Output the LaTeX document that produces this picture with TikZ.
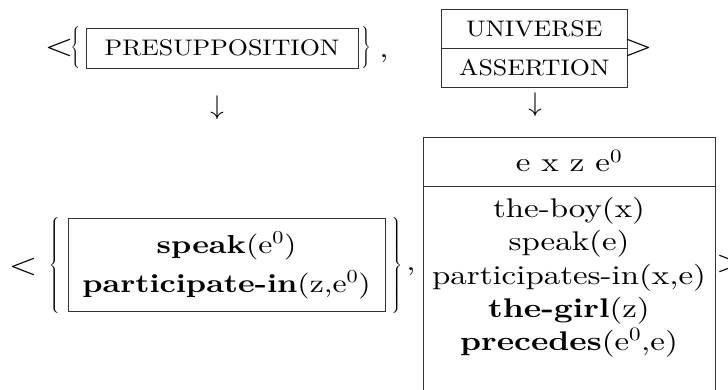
\documentclass[tikz,border=0pt]{standalone}
\usepackage{fix-cm}
\usepackage{fontspec}
\setmainfont{lmroman10-regular.otf}[BoldFont=lmroman10-bold.otf, FakeStretch=1.22]
\newfontfamily\capfont{lmroman10-regular.otf}[FakeStretch=1.15]
\usepackage{graphicx}
\newcommand\lbrc[2]{\scalebox{#2}[1]{$\left\{\vcenter{\hbox{\vrule height #1 width 0pt}}\right.$}}
\newcommand\rbrc[2]{\scalebox{#2}[1]{$\left.\vcenter{\hbox{\vrule height #1 width 0pt}}\right\}$}}
\newcommand\ezero{e\textsuperscript{0}}
\tikzset{
  boxed/.style={draw=black!80, line width=0.9pt, inner sep=0pt},
  lbl/.style={inner sep=0pt, font=\fontsize{22.5}{27}\capfont, text height=15.4pt, text depth=0pt},
  txt/.style={inner sep=0pt, anchor=base, font=\fontsize{27}{33}\selectfont},
  btxt/.style={inner sep=0pt, anchor=base, font=\fontsize{26}{32}\selectfont},
  sym/.style={inner sep=0pt, font=\fontsize{30}{36}\selectfont},
  brcs/.style={inner sep=0pt, font=\fontsize{22}{26}\selectfont},
  brc/.style={inner sep=0pt, font=\fontsize{20}{24}\selectfont},
}
\begin{document}
\begin{tikzpicture}[x=1pt,y=-1pt]
\useasboundingbox (0,0) rectangle (728,390);
\clip (0,0) rectangle (728,390);
% top row
\node[sym] (lt1) at (59,48.5) {<};
\node[brcs] (lb1) at (76,48) {\lbrc{40pt}{1.05}};
\node[boxed,lbl,minimum width=272pt,minimum height=40pt] (pres) at (222,48) {PRESUPPOSITION};
\node[brcs] (rb1) at (365.5,48) {\rbrc{40pt}{1.05}};
\node[txt] (cm1) at (384,58) {,};
\node[boxed,lbl,minimum width=185.5pt,minimum height=39pt] (uni) at (534.25,28.5) {UNIVERSE};
\node[boxed,lbl,minimum width=185.5pt,minimum height=39pt] (asr) at (534.25,67.5) {ASSERTION};
\node[sym] (gt1) at (638,48.5) {>};
\node[txt,anchor=center] (ar1) at (217,107.5) {$\downarrow$};
\node[txt,anchor=center] (ar2) at (535,105) {$\downarrow$};
% bottom row
\node[sym] (lt2) at (23,266.5) {<};
\node[brc] (lb2) at (55,265) {\lbrc{96pt}{1.22}};
\node[boxed,minimum width=317pt,minimum height=93pt] (pbox) at (226.5,264.5) {};
\node[btxt] (p1) at (226.5,253) {\textbf{speak}(\ezero)};
\node[btxt] (p2) at (226.5,292) {\textbf{participate-in}(z,\ezero)};
\node[brc] (rb2) at (396,265) {\rbrc{96pt}{1.22}};
\node[txt] (cm2) at (411,270) {,};
\node[boxed,minimum width=292pt,minimum height=49pt] (dh) at (569,161.5) {};
\node[boxed,minimum width=292pt,minimum height=220pt] (db) at (569,296) {};
\node[txt] (u1) at (569,172) {e x z \ezero};
\node[txt] (c1) at (569,218) {the-boy(x)};
\node[txt] (c2) at (569,251) {speak(e)};
\node[txt] (c3) at (569,284) {participates-in(x,e)};
\node[txt] (c4) at (569,317) {\textbf{the-girl}(z)};
\node[txt] (c5) at (569,350) {\textbf{precedes}(\ezero,e)};
\node[sym,anchor=west] (gt2) at (716,264) {>};
\end{tikzpicture}
\end{document}
